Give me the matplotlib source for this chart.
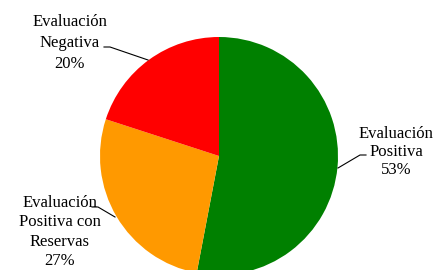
import matplotlib.pyplot as plt

etiquetas = ['Evaluación\nPositiva\n53%', 'Evaluación\nPositiva con\nReservas\n27%', 'Evaluación\nNegativa\n20%']
valores = [53, 27, 20]
colores = ['#008000', '#FF9900', '#FF0000']

fig = plt.figure(figsize=(4.35, 2.7), dpi=100)
ax = fig.add_axes([0, 0, 1, 1])

ax.pie(valores, colors=colores, startangle=90, counterclock=False,
       center=(219, 114), radius=119, frame=True)
ax.set_xlim(0, 435)
ax.set_ylim(0, 270)
ax.set_aspect('equal')
ax.axis('off')

fuente = dict(family='Liberation Serif', fontsize=12, ha='center', va='center')

# etiquetas con lineas guia
ax.text(396, 118, etiquetas[0], linespacing=1.2, **fuente)
ax.plot([366, 360, 338], [115, 115, 102], color='black', lw=0.8)

ax.text(60, 38, etiquetas[1], linespacing=1.3, **fuente)
ax.plot([92, 98, 115], [63, 63, 53], color='black', lw=0.8)

ax.text(70, 227, etiquetas[2], linespacing=1.4, **fuente)
ax.plot([104, 110, 148], [223, 223, 210], color='black', lw=0.8)

plt.savefig('out.png', dpi=100)
